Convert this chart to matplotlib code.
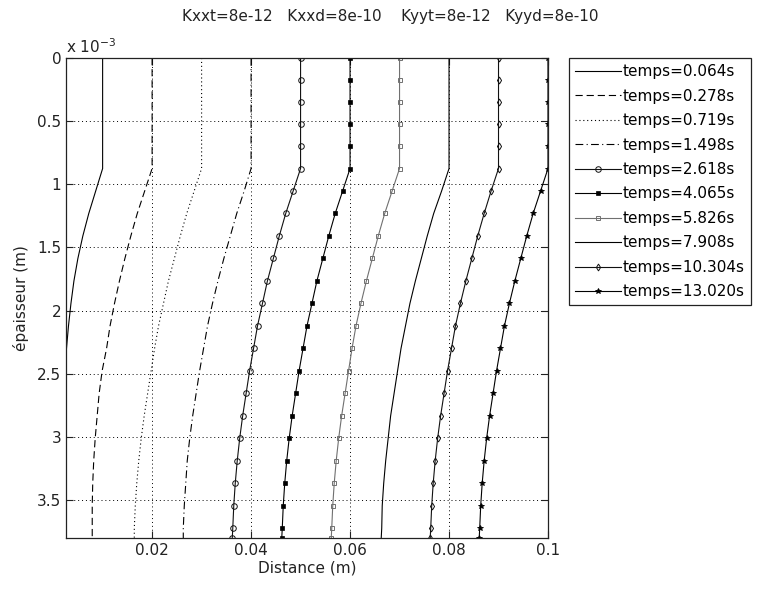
import matplotlib
matplotlib.use("Agg")
import matplotlib.pyplot as plt
from matplotlib.ticker import FuncFormatter

plt.rcParams['font.family'] = ['DejaVu Sans']

# depth (m)
depth = [0.0, 0.175e-3, 0.35e-3, 0.525e-3, 0.7e-3, 0.875e-3,
         1.053e-3, 1.231e-3, 1.409e-3, 1.587e-3, 1.765e-3, 1.943e-3,
         2.121e-3, 2.299e-3, 2.477e-3, 2.655e-3, 2.833e-3, 3.011e-3,
         3.189e-3, 3.367e-3, 3.545e-3, 3.723e-3, 3.8e-3]

labels = ["temps=0.064s", "temps=0.278s", "temps=0.719s", "temps=1.498s",
          "temps=2.618s", "temps=4.065s", "temps=5.826s", "temps=7.908s",
          "temps=10.304s", "temps=13.020s"]

x_0064 = [0.01]*6 + [0.0086, 0.0072, 0.0060, 0.0050, 0.0042, 0.0036, 0.0031, 0.0027,
                     0.0024, 0.0020, 0.0015, 0.0010, 0.0006, 0.0003, 0.0001, 0.0000, 0.0000]
x_0278 = [0.02]*6 + [0.0185, 0.0170, 0.0157, 0.0145, 0.0134, 0.0124, 0.0115, 0.0108,
                     0.0099, 0.0093, 0.0089, 0.0085, 0.0082, 0.0080, 0.0079, 0.0079, 0.0079]
x_0719 = [0.03]*6 + [0.0285, 0.0270, 0.0257, 0.0245, 0.0233, 0.0223, 0.0213, 0.0205,
                     0.0198, 0.0191, 0.0184, 0.0178, 0.0173, 0.0169, 0.0166, 0.0164, 0.0164]
x_1498 = [0.04]*6 + [0.0386, 0.0371, 0.0358, 0.0345, 0.0333, 0.0322, 0.0312, 0.0304,
                     0.0296, 0.0289, 0.0282, 0.0276, 0.0271, 0.0268, 0.0265, 0.0263, 0.0263]
x_2618 = [0.05]*6 + [0.0485, 0.0470, 0.0457, 0.0445, 0.0433, 0.0423, 0.0413, 0.0405,
                     0.0397, 0.0390, 0.0383, 0.0377, 0.0372, 0.0368, 0.0365, 0.0363, 0.0362]
x_4065 = [0.06]*6 + [0.0585, 0.0570, 0.0557, 0.0545, 0.0533, 0.0523, 0.0513, 0.0505,
                     0.0497, 0.0490, 0.0483, 0.0477, 0.0472, 0.0468, 0.0465, 0.0463, 0.0462]
x_5826 = [0.07]*6 + [0.0685, 0.0670, 0.0657, 0.0645, 0.0633, 0.0622, 0.0612, 0.0604,
                     0.0597, 0.0590, 0.0583, 0.0577, 0.0572, 0.0568, 0.0565, 0.0563, 0.0562]
x_7908 = [0.08]*6 + [0.0785, 0.0769, 0.0756, 0.0744, 0.0732, 0.0721, 0.0712, 0.0703,
                     0.0696, 0.0689, 0.0682, 0.0677, 0.0672, 0.0668, 0.0665, 0.0664, 0.0663]
x_10304 = [0.09]*6 + [0.0885, 0.0871, 0.0858, 0.0846, 0.0834, 0.0823, 0.0813, 0.0805,
                      0.0797, 0.0790, 0.0783, 0.0777, 0.0772, 0.0768, 0.0765, 0.0763, 0.0762]
x_13020 = [0.1]*6 + [0.0985, 0.0970, 0.0957, 0.0945, 0.0933, 0.0922, 0.0912, 0.0904,
                     0.0896, 0.0889, 0.0882, 0.0876, 0.0871, 0.0867, 0.0864, 0.0862, 0.0861]

series = [x_0064, x_0278, x_0719, x_1498, x_2618, x_4065, x_5826, x_7908, x_10304, x_13020]

styles = [
    dict(color='black', ls='-'),
    dict(color='black', ls=(0, (6.5, 3.5))),
    dict(color='black', ls=(0, (1, 2.5))),
    dict(color='black', ls=(0, (7, 3, 1, 3))),
    dict(color='#111111', ls='-', marker='o', ms=4, mfc='none', mew=0.7),
    dict(color='black', ls='-', marker='s', ms=2.8, mfc='black', mew=0.5),
    dict(color='#707070', ls='-', marker='s', ms=2.8, mfc='none', mew=0.7),
    dict(color='black', ls='-'),
    dict(color='#111111', ls='-', marker='d', ms=3.5, mfc='none', mew=0.7),
    dict(color='black', ls='-', marker='*', ms=4, mew=0.6),
]

FS = 11
TC = '#222222'

fig = plt.figure(figsize=(7.64, 5.91), dpi=100)
ax = fig.add_axes([66/764, 1-538/591, (548-66)/764, (538-58)/591])

for xs, lab, st in zip(series, labels, styles):
    ax.plot(xs, depth, lw=0.8, label=lab, **st)

ax.set_xlim(0.0026, 0.1)
ax.set_ylim(3.8e-3, 0.0)
ax.set_xticks([0.02, 0.04, 0.06, 0.08, 0.1])
ax.set_xticklabels(["0.02", "0.04", "0.06", "0.08", "0.1"])
ax.set_yticks([0, 0.5e-3, 1e-3, 1.5e-3, 2e-3, 2.5e-3, 3e-3, 3.5e-3])
ax.yaxis.set_major_formatter(FuncFormatter(lambda v, p: "%g" % round(v*1e3, 3)))
ax.tick_params(direction='in', top=True, right=True, length=5, width=0.8,
               labelsize=FS, colors=TC)
ax.grid(True, color='black', ls=(0, (1, 3)), lw=0.7)
for s in ax.spines.values():
    s.set_linewidth(0.9)
    s.set_color(TC)

ax.text(0.0, 1.005, r'x 10$^{-3}$', transform=ax.transAxes, ha='left', va='bottom',
        fontsize=FS, color=TC)
ax.set_xlabel("Distance (m)", fontsize=FS, labelpad=2, color=TC)
ax.set_ylabel("épaisseur (m)", fontsize=FS, labelpad=6, color=TC)

fig.text(390/764, 1-17/591, "Kxxt=8e-12   Kxxd=8e-10    Kyyt=8e-12   Kyyd=8e-10",
         ha='center', va='center', fontsize=FS, color=TC)

leg = ax.legend(loc='upper left', bbox_to_anchor=(569/764, 1-58/591),
                bbox_transform=fig.transFigure, fontsize=FS, numpoints=1,
                handlelength=3.0, handletextpad=0.1, labelspacing=0.62,
                borderaxespad=0, borderpad=0.4, fancybox=False, framealpha=1,
                edgecolor=TC)
leg.get_frame().set_linewidth(0.9)

fig.savefig("out.png", dpi=100)
